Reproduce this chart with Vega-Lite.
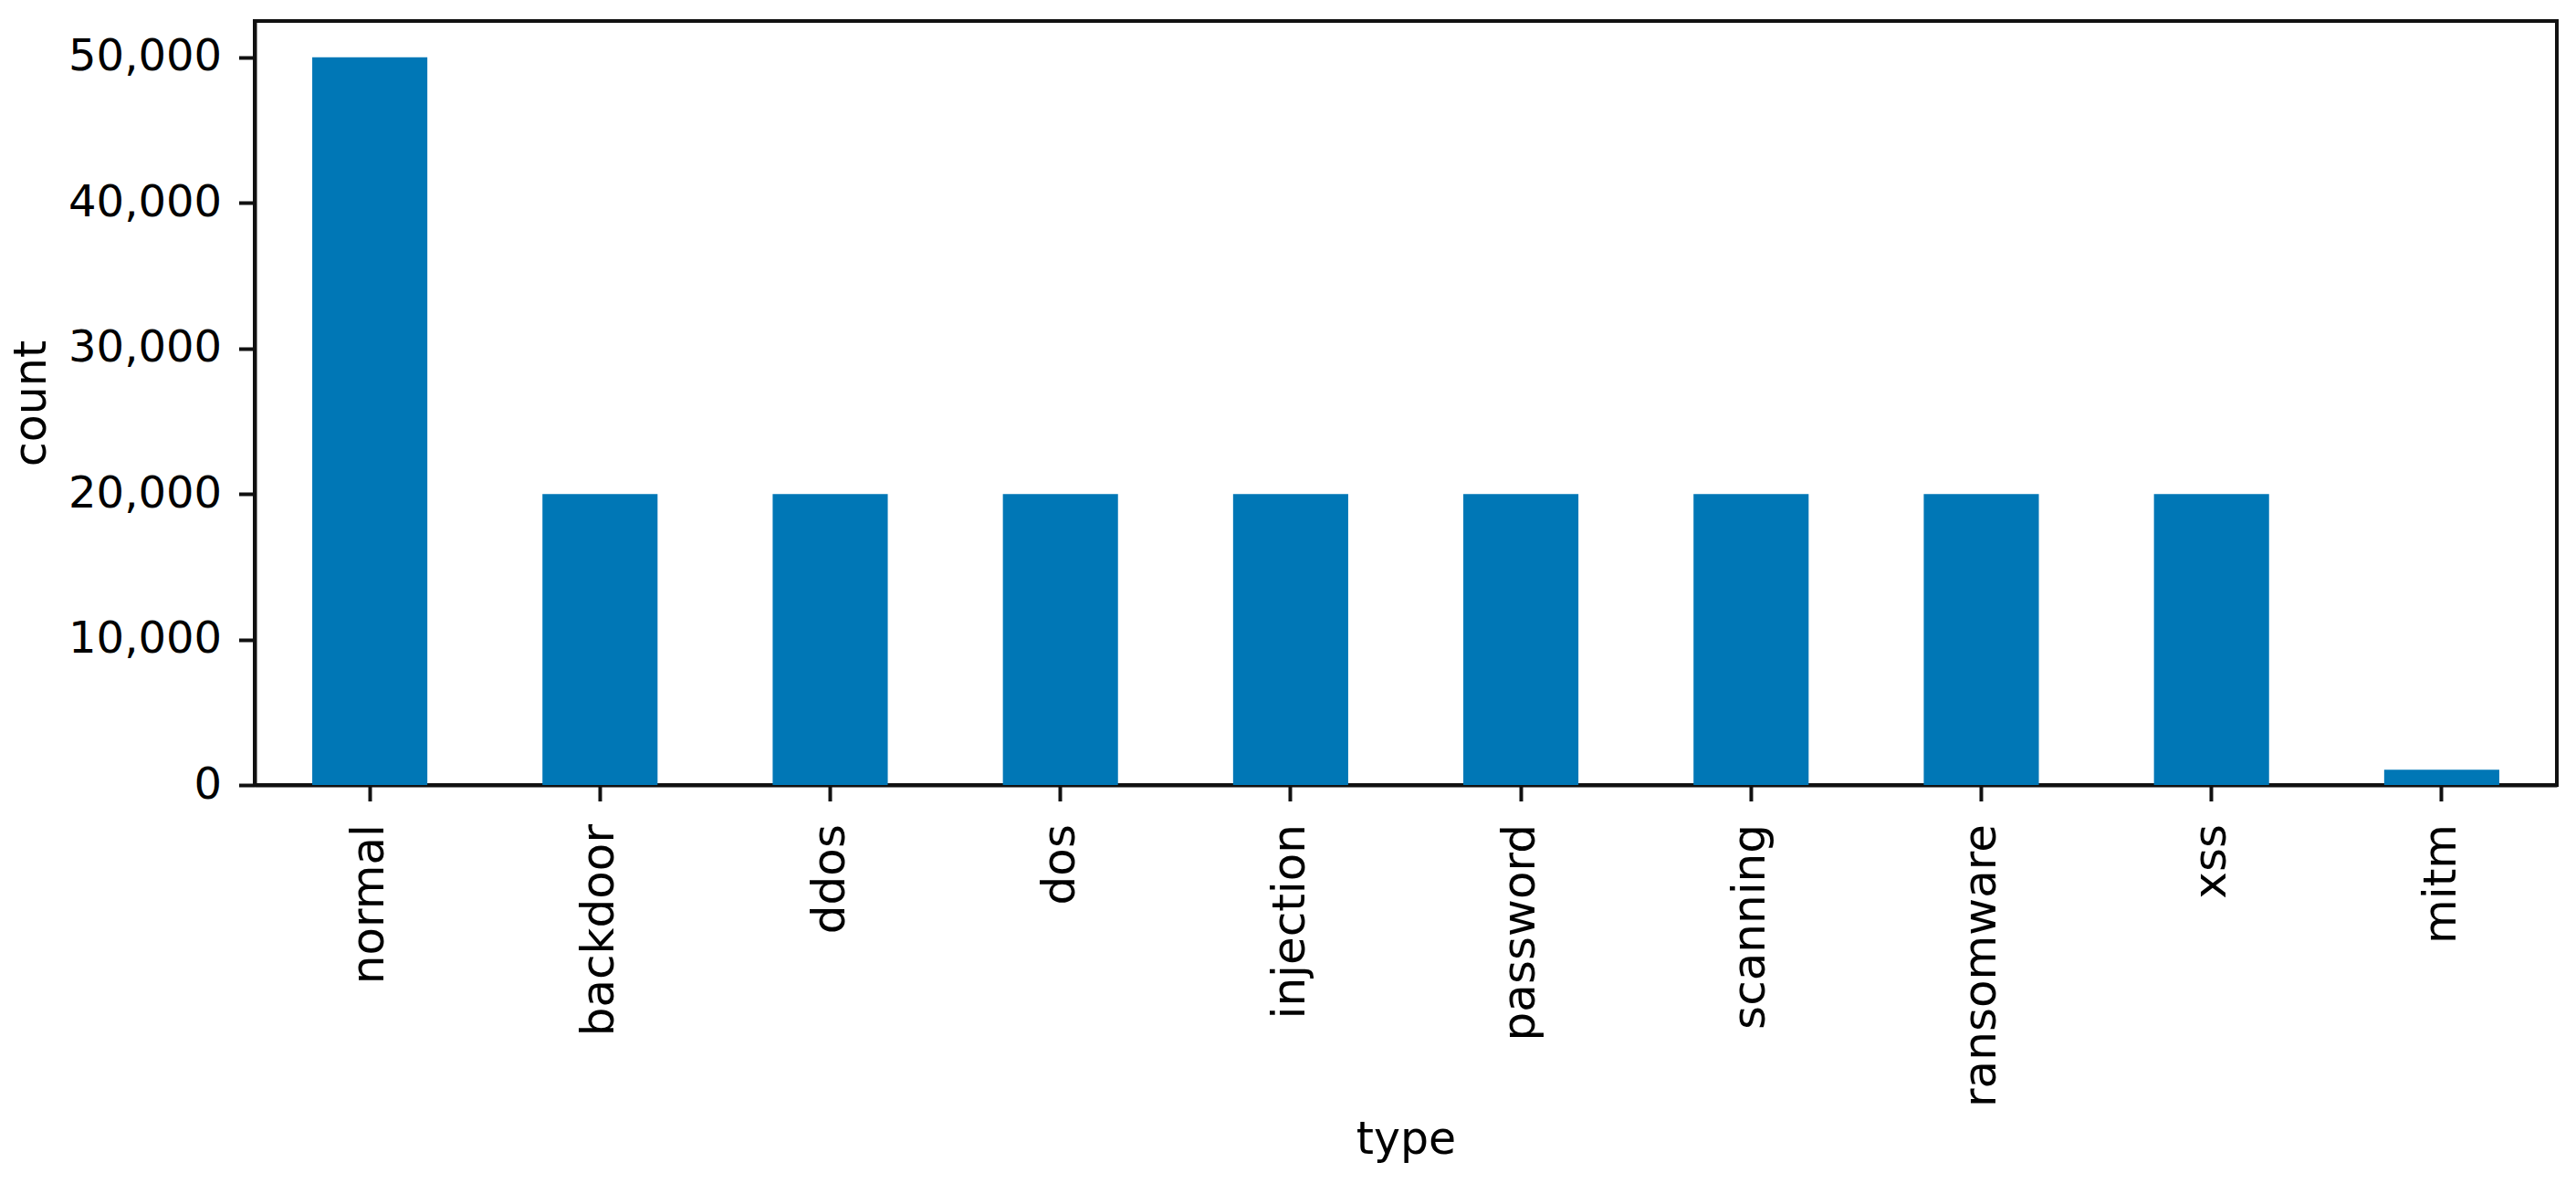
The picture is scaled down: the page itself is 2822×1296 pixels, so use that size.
{
  "$schema": "https://vega.github.io/schema/vega-lite/v6.json",
  "autosize": {"type": "none"},
  "width": 2522,
  "height": 837,
  "padding": {"left": 279, "top": 23, "right": 21, "bottom": 436},
  "background": "white",
  "data": {"values": [
    {"type": "normal", "count": 50000},
    {"type": "backdoor", "count": 20000},
    {"type": "ddos", "count": 20000},
    {"type": "dos", "count": 20000},
    {"type": "injection", "count": 20000},
    {"type": "password", "count": 20000},
    {"type": "scanning", "count": 20000},
    {"type": "ransomware", "count": 20000},
    {"type": "xss", "count": 20000},
    {"type": "mitm", "count": 1043}
  ]},
  "mark": {"type": "bar", "color": "#0077b6"},
  "encoding": {
    "x": {
      "field": "type", "type": "nominal", "sort": null,
      "scale": {"paddingInner": 0.5, "paddingOuter": 0.25},
      "axis": {
        "title": "type", "labelAngle": -90, "labelAlign": "right", "labelBaseline": "middle",
        "labelFont": "DejaVu Sans", "labelFontSize": 50, "labelColor": "#000", "labelLimit": 0,
        "titleFont": "DejaVu Sans", "titleFontSize": 49, "titleFontWeight": "normal", "titleColor": "#000",
        "titleY": 403, "titleBaseline": "alphabetic",
        "tickSize": 17.5, "tickWidth": 4, "tickColor": "#111", "labelPadding": 25,
        "domainColor": "#111", "domainWidth": 4, "grid": false
      }
    },
    "y": {
      "field": "count", "type": "quantitative",
      "scale": {"domain": [0, 52500], "nice": false, "zero": true},
      "axis": {
        "title": "count", "format": ",d", "values": [0, 10000, 20000, 30000, 40000, 50000],
        "labelFont": "DejaVu Sans", "labelFontSize": 48, "labelColor": "#000",
        "titleFont": "DejaVu Sans", "titleFontSize": 49, "titleFontWeight": "normal", "titleColor": "#000",
        "titlePadding": 20,
        "tickSize": 17.5, "tickWidth": 4, "tickColor": "#111", "labelPadding": 19,
        "domainColor": "#111", "domainWidth": 4, "grid": false
      }
    }
  },
  "config": {"view": {"stroke": "#111", "strokeWidth": 4}}
}
